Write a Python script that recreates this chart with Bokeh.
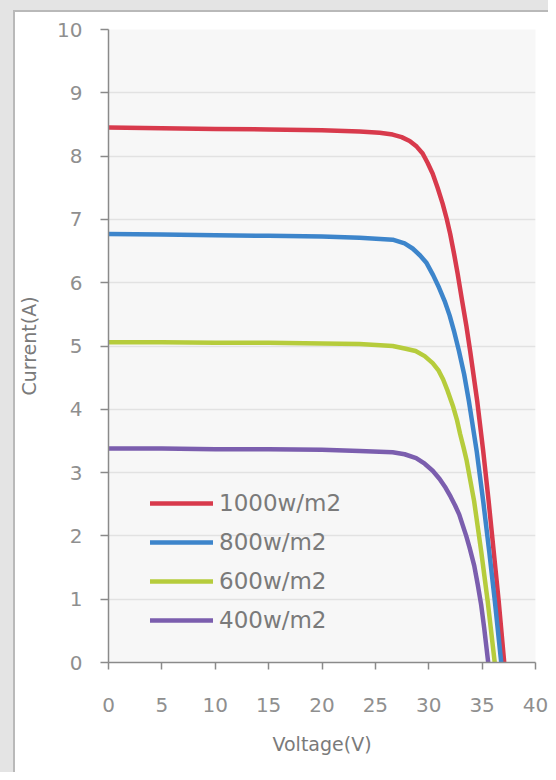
from bokeh.plotting import figure
from bokeh.models import Range1d, FixedTicker, Legend, LegendItem, InlineStyleSheet
from bokeh.embed import file_html
from bokeh.resources import INLINE

# ---- data ----
v_1000 = [0, 5, 10, 15, 20, 23.52, 25.40, 26.62, 27.46, 28.21, 28.87, 29.43, 29.90, 30.37, 30.83, 31.30, 31.68,
          32.01, 32.38, 32.71, 33.13, 33.52, 33.88, 34.54, 35.10, 35.61, 36.08, 36.55, 37.07]
i_1000 = [8.45, 8.44, 8.43, 8.42, 8.41, 8.39, 8.37, 8.34, 8.30, 8.24, 8.15, 8.04, 7.89, 7.72, 7.50, 7.25, 7.01,
          6.77, 6.45, 6.14, 5.71, 5.32, 4.92, 4.13, 3.34, 2.55, 1.76, 0.97, 0.0]

v_800 = [0, 5, 10, 15, 20, 23.52, 26.62, 27.74, 28.49, 29.19, 29.80, 30.41, 30.97, 31.49, 31.96, 32.36, 32.83,
         33.32, 33.76, 34.49, 35.10, 35.66, 36.19, 36.79]
i_800 = [6.77, 6.76, 6.75, 6.74, 6.73, 6.71, 6.68, 6.62, 6.54, 6.43, 6.31, 6.12, 5.92, 5.71, 5.48, 5.24, 4.92,
         4.55, 4.13, 3.34, 2.55, 1.76, 0.97, 0.0]

v_600 = [0, 5, 10, 15, 20, 23.52, 26.62, 27.74, 28.77, 29.62, 30.37, 30.93, 31.35, 31.77, 32.29, 32.66, 32.94,
         33.27, 33.55, 34.25, 34.91, 35.52, 36.18]
i_600 = [5.06, 5.06, 5.05, 5.05, 5.04, 5.03, 5.00, 4.96, 4.92, 4.84, 4.73, 4.61, 4.47, 4.29, 4.04, 3.82, 3.61,
         3.39, 3.19, 2.55, 1.76, 0.97, 0.0]

v_400 = [0, 5, 10, 15, 20, 23.52, 26.62, 27.74, 28.82, 29.62, 30.37, 31.02, 31.58, 32.05, 32.47, 32.85, 33.18,
         33.51, 33.83, 34.26, 34.58, 34.91, 35.19, 35.57]
i_400 = [3.38, 3.38, 3.37, 3.37, 3.36, 3.34, 3.32, 3.29, 3.23, 3.14, 3.03, 2.90, 2.76, 2.62, 2.48, 2.34, 2.17,
         2.00, 1.81, 1.53, 1.24, 0.91, 0.55, 0.0]

series_labels = ["1000w/m2", "800w/m2", "600w/m2", "400w/m2"]
series_colors = ["#d83a4c", "#3d85cb", "#b6cc3c", "#7b5eae"]
x_ticks = [0, 5, 10, 15, 20, 25, 30, 35, 40]
y_ticks = [0, 1, 2, 3, 4, 5, 6, 7, 8, 9, 10]

FONT = "DejaVu Sans"

p = figure(width=548, height=772, output_backend="svg", toolbar_location=None,
           x_range=Range1d(0, 40), y_range=Range1d(0, 10),
           min_border_left=108, min_border_right=13, min_border_top=29, min_border_bottom=110)

p.background_fill_color = "#f7f7f7"
p.border_fill_color = "white"
p.border_fill_alpha = 0.0
p.outline_line_color = None
# white card with grey surround and edge, drawn by the host element behind the transparent canvas border
p.stylesheets = [InlineStyleSheet(css=":host { background-color: white; "
                                      "box-shadow: inset 13px 10px 0 0 #e4e4e4, inset 15px 12px 0 0 #b9b9b9; }")]

p.xgrid.grid_line_color = None
p.ygrid.grid_line_color = "#e2e2e2"
p.ygrid.grid_line_width = 1.5

for ax in (p.xaxis[0], p.yaxis[0]):
    ax.axis_line_color = "#8a8a8a"
    ax.axis_line_width = 1.5
    ax.major_tick_line_color = "#8a8a8a"
    ax.major_tick_line_width = 1.5
    ax.major_tick_in = 0
    ax.minor_tick_line_color = None
    ax.major_label_text_font = FONT
    ax.major_label_text_font_size = "20px"
    ax.major_label_text_color = "#8f8f8f"
    ax.axis_label_text_font = FONT
    ax.axis_label_text_font_size = "19px"
    ax.axis_label_text_font_style = "normal"
    ax.axis_label_text_color = "#7a7a7a"

p.xaxis.ticker = FixedTicker(ticks=x_ticks)
p.yaxis.ticker = FixedTicker(ticks=y_ticks)
p.xaxis.major_tick_out = 7
p.yaxis.major_tick_out = 8
p.xaxis.major_label_standoff = 28
p.yaxis.major_label_standoff = 18
p.xaxis.axis_label = "Voltage(V)"
p.yaxis.axis_label = "Current(A)"
p.xaxis.axis_label_standoff = 18
p.yaxis.axis_label_standoff = 14

renderers = []
for vs, cs, col in zip([v_1000, v_800, v_600, v_400], [i_1000, i_800, i_600, i_400], series_colors):
    r = p.line(vs, cs, line_color=col, line_width=4.5, line_join="round", line_cap="round")
    renderers.append(r)

legend = Legend(items=[LegendItem(label=lab, renderers=[r]) for lab, r in zip(series_labels, renderers)],
                location=(42, 29), padding=0, margin=0, spacing=13,
                glyph_width=63, glyph_height=26, label_height=26, label_standoff=6,
                label_text_font=FONT, label_text_font_size="23px", label_text_color="#7a7a7a",
                background_fill_alpha=0, border_line_color=None)
p.add_layout(legend)

open("out.html", "w").write(file_html(p, INLINE))
